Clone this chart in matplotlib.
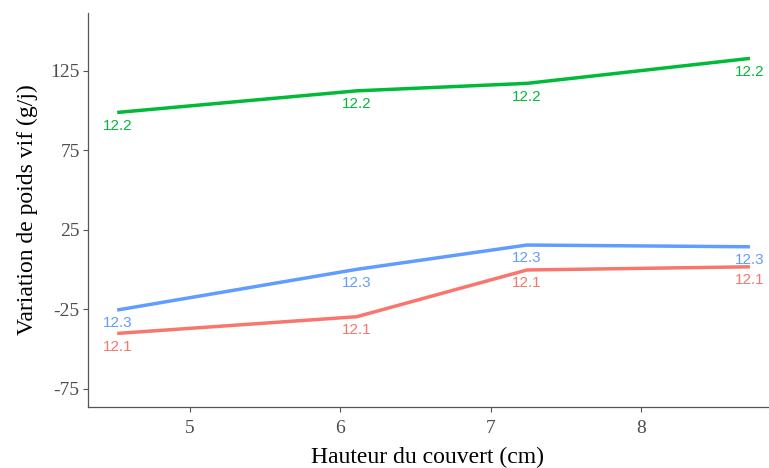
import matplotlib
matplotlib.use("Agg")
import matplotlib.pyplot as plt

plt.rcParams["axes.unicode_minus"] = False

# values
hauteur = [4.52, 6.11, 7.24, 8.72]
series = {
    "12.1": [-40.2, -29.7, -0.3, 1.7],
    "12.2": [98.8, 112.4, 117.1, 132.8],
    "12.3": [-25.5, 0.1, 15.4, 14.3],
}
couleurs = {"12.1": "#F8766D", "12.2": "#00BA38", "12.3": "#619CFF"}
x_ticks = [5, 6, 7, 8]
y_ticks = [-75, -25, 25, 75, 125]

fig = plt.figure(figsize=(7.69, 4.68), dpi=100)
ax = fig.add_axes([0.1144, 0.131, 0.8843, 0.841])

for nom, valeurs in series.items():
    ax.plot(hauteur, valeurs, color=couleurs[nom], lw=2.5, solid_capstyle="butt")
    for x, y in zip(hauteur, valeurs):
        ax.annotate(nom, (x, y), xytext=(0, -9.5), textcoords="offset points",
                    ha="center", va="center", color=couleurs[nom],
                    fontsize=11, family="Liberation Sans")

ax.set_xlim(4.326, 8.84)
ax.set_ylim(-86.3, 161.3)
ax.set_xticks(x_ticks)
ax.set_yticks(y_ticks)

for s in ["top", "right"]:
    ax.spines[s].set_visible(False)
for s in ["left", "bottom"]:
    ax.spines[s].set_color("#555555")
    ax.spines[s].set_linewidth(0.9)

ax.tick_params(colors="#555555", length=3.5, width=0.8)
ax.tick_params(axis="x", pad=6)
ax.tick_params(axis="y", pad=2.5)
for lab in ax.get_xticklabels() + ax.get_yticklabels():
    lab.set_family("Liberation Serif")
    lab.set_fontsize(14)
    lab.set_color("#4d4d4d")

ax.set_xlabel("Hauteur du couvert (cm)", family="Liberation Serif", fontsize=17, labelpad=7)
ax.set_ylabel("Variation de poids vif (g/j)", family="Liberation Serif", fontsize=17, labelpad=9)

fig.savefig("out.png", dpi=100)
